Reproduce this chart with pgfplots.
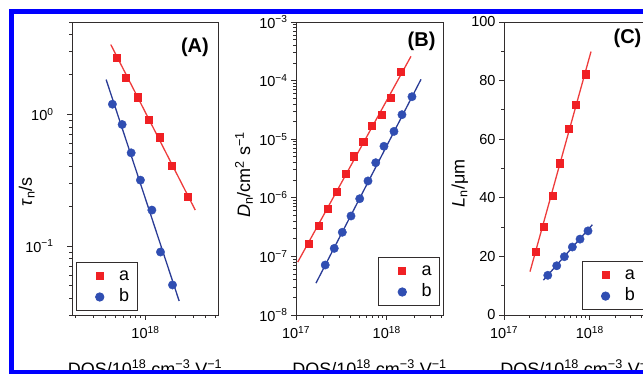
\documentclass[border=0pt]{standalone}
\usepackage{pgfplots}
\pgfplotsset{compat=1.18}
\usepackage{fontspec}
\setmainfont{Liberation Sans}
\definecolor{myred}{RGB}{240,32,36}
\definecolor{myredline}{RGB}{238,60,60}
\definecolor{myblue}{RGB}{48,78,178}
\definecolor{mybline}{RGB}{42,60,150}
\definecolor{frameblue}{RGB}{0,0,255}
\definecolor{axcol}{RGB}{50,45,45}
\pgfplotsset{
  panel/.style={
    scale only axis, height=293pt, width=147pt, anchor=south west,
    axis line style={axcol, line width=0.9pt},
    tick style={axcol, line width=0.8pt},
    tick align=outside, xtick pos=left, ytick pos=left,
    major tick length=5pt, minor tick length=3pt,
    /pgf/number format/assume math mode=true,
    tick label style={font=\fontsize{14.5}{16}\selectfont, text=black},
    xticklabel style={yshift=-3pt},
    label style={font=\fontsize{18}{20}\selectfont},
    xlabel={DOS/10\textsuperscript{18} cm\textsuperscript{−3} V\textsuperscript{−1}},
    xlabel style={at={(axis description cs:0.5,-0.205)}, anchor=base},
    legend style={draw=axcol, line width=0.8pt, font=\fontsize{18}{20}\selectfont,
      inner xsep=6pt, inner ysep=4pt, row sep=2pt,
      nodes={inner sep=2pt, text height=12pt, text depth=3pt}},
    legend cell align=left,
    legend image code/.code={%
      \path (0pt,0pt) (34pt,0pt);
      \draw[mark repeat=2,mark phase=2,##1] plot coordinates {(0pt,0pt) (17pt,0pt) (34pt,0pt)};},
  },
  rm/.style={only marks, mark=square*, mark size=3.6pt, color=myred, mark options={fill=myred, draw=myred}},
  bm/.style={only marks, mark=*, mark size=4.2pt, color=myblue, mark options={fill=myblue, draw=myblue}},
  rl/.style={myredline, line width=1.3pt, forget plot},
  bl/.style={mybline, line width=1.3pt, forget plot},
}
\begin{document}
\begin{tikzpicture}
\useasboundingbox (0pt,0pt) rectangle (643pt,374pt);
\fill[frameblue] (9pt,0pt) rectangle (643pt,4pt);
\fill[frameblue] (9pt,360pt) rectangle (643pt,365pt);
\fill[frameblue] (9pt,0pt) rectangle (14pt,365pt);
\begin{scope}
\clip (14pt,4pt) rectangle (643pt,360pt);
% Panel A
\begin{axis}[panel, at={(72pt,59pt)}, width=146pt, xmode=log, ymode=log,
  xmin=1.85e17, xmax=5.3e18, ymin=0.03, ymax=5,
  xtick={1e18}, xticklabels={10\textsuperscript{18}},
  minor xtick={2e17,3e17,4e17,5e17,6e17,7e17,8e17,9e17,2e18,3e18,4e18,5e18},
  ytick={0.1,1}, yticklabels={10\textsuperscript{−1},10\textsuperscript{0}},
  minor ytick={0.03,0.04,0.05,0.06,0.07,0.08,0.09,0.2,0.3,0.4,0.5,0.6,0.7,0.8,0.9,2,3,4,5},
  yticklabel style={xshift=-10pt},
  ylabel={\textit{τ}\textsubscript{n}/s},
  ylabel style={at={(axis description cs:-0.31,0.42)}, anchor=center},
  legend style={at={(axis description cs:0.027,0.014)}, anchor=south west},
]
\addplot[rl] coordinates {(4.51e17,3.37) (3.14e18,0.1875)};
\addplot[bl] coordinates {(4.05e17,1.83) (2.17e18,0.0383)};
\addplot[rm] coordinates {(5.21e17,2.67) (6.41e17,1.90) (8.40e17,1.345) (1.081e18,0.912) (1.393e18,0.669) (1.836e18,0.404) (2.655e18,0.238)};
\addplot[bm] coordinates {(4.68e17,1.19) (5.85e17,0.835) (7.2e17,0.509) (8.91e17,0.316) (1.159e18,0.1874) (1.413e18,0.0901) (1.862e18,0.0507)};
\legend{a,b}
\node[font=\bfseries\fontsize{20}{22}\selectfont] at (rel axis cs:0.842,0.915) {(A)};
\end{axis}
% Panel B
\begin{axis}[panel, at={(296pt,59pt)}, xmode=log, ymode=log,
  xmin=1e17, xmax=4.18e18, ymin=1e-8, ymax=1e-3,
  xtick={1e17,1e18}, xticklabels={10\textsuperscript{17},10\textsuperscript{18}},
  minor xtick={2e17,3e17,4e17,5e17,6e17,7e17,8e17,9e17,2e18,3e18,4e18},
  ytick={1e-8,1e-7,1e-6,1e-5,1e-4,1e-3},
  yticklabels={10\textsuperscript{−8},10\textsuperscript{−7},10\textsuperscript{−6},10\textsuperscript{−5},10\textsuperscript{−4},10\textsuperscript{−3}},
  minor ytick={2e-8,3e-8,4e-8,5e-8,6e-8,7e-8,8e-8,9e-8,2e-7,3e-7,4e-7,5e-7,6e-7,7e-7,8e-7,9e-7,2e-6,3e-6,4e-6,5e-6,6e-6,7e-6,8e-6,9e-6,2e-5,3e-5,4e-5,5e-5,6e-5,7e-5,8e-5,9e-5,2e-4,3e-4,4e-4,5e-4,6e-4,7e-4,8e-4,9e-4},
  ylabel={\textit{D}\textsubscript{n}/cm\textsuperscript{2} s\textsuperscript{−1}},
  ylabel style={at={(axis description cs:-0.354,0.478)}, anchor=center},
  legend style={at={(axis description cs:0.98,0.031)}, anchor=south east},
]
\addplot[rl] coordinates {(1.045e17,8.0e-8) (1.854e18,2.6e-4)};
\addplot[bl] coordinates {(1.66e17,3.5e-8) (2.39e18,1.05e-4)};
\addplot[rm] coordinates {(1.38e17,1.65e-7) (1.78e17,3.34e-7) (2.24e17,6.52e-7) (2.81e17,1.29e-6) (3.53e17,2.55e-6) (4.36e17,5.11e-6) (5.52e17,9.06e-6) (6.88e17,1.70e-5) (8.81e17,2.66e-5) (1.115e18,5.05e-5) (1.438e18,1.42e-4)};
\addplot[bm] coordinates {(2.10e17,7.13e-8) (2.64e17,1.37e-7) (3.24e17,2.58e-7) (4.04e17,4.89e-7) (5.04e17,9.65e-7) (6.22e17,1.94e-6) (7.57e17,3.97e-6) (9.33e17,7.57e-6) (1.203e18,1.36e-5) (1.474e18,2.62e-5) (1.90e18,5.31e-5)};
\legend{a,b}
\node[font=\bfseries\fontsize{20}{22}\selectfont] at (rel axis cs:0.854,0.935) {(B)};
\end{axis}
% Panel C
\begin{axis}[panel, at={(504pt,59pt)}, xmode=log,
  xmin=1e17, xmax=5.19e18, ymin=0, ymax=100,
  xtick={1e17,1e18}, xticklabels={10\textsuperscript{17},10\textsuperscript{18}},
  minor xtick={2e17,3e17,4e17,5e17,6e17,7e17,8e17,9e17,2e18,3e18,4e18,5e18},
  ytick={0,20,40,60,80,100}, minor ytick={10,30,50,70,90},
  ylabel={\textit{L}\textsubscript{n}/μm},
  ylabel style={at={(axis description cs:-0.30,0.45)}, anchor=center},
  legend style={at={(axis description cs:0.529,0.017)}, anchor=south west},
]
\addplot[rl] coordinates {(2.01e17,14.8) (1.035e18,89.9)};
\addplot[bl] coordinates {(2.88e17,11.9) (1.072e18,30.8)};
\addplot[rm] coordinates {(2.34e17,21.6) (2.93e17,30.1) (3.66e17,40.6) (4.47e17,51.8) (5.73e17,63.7) (6.92e17,71.9) (9.06e17,82.2)};
\addplot[bm] coordinates {(3.24e17,13.55) (4.12e17,16.8) (5.06e17,19.9) (6.27e17,23.2) (7.71e17,25.9) (9.55e17,28.7)};
\legend{a,b}
\node[font=\bfseries\fontsize{20}{22}\selectfont] at (rel axis cs:0.84,0.945) {(C)};
\end{axis}
\end{scope}
\end{tikzpicture}
\end{document}
